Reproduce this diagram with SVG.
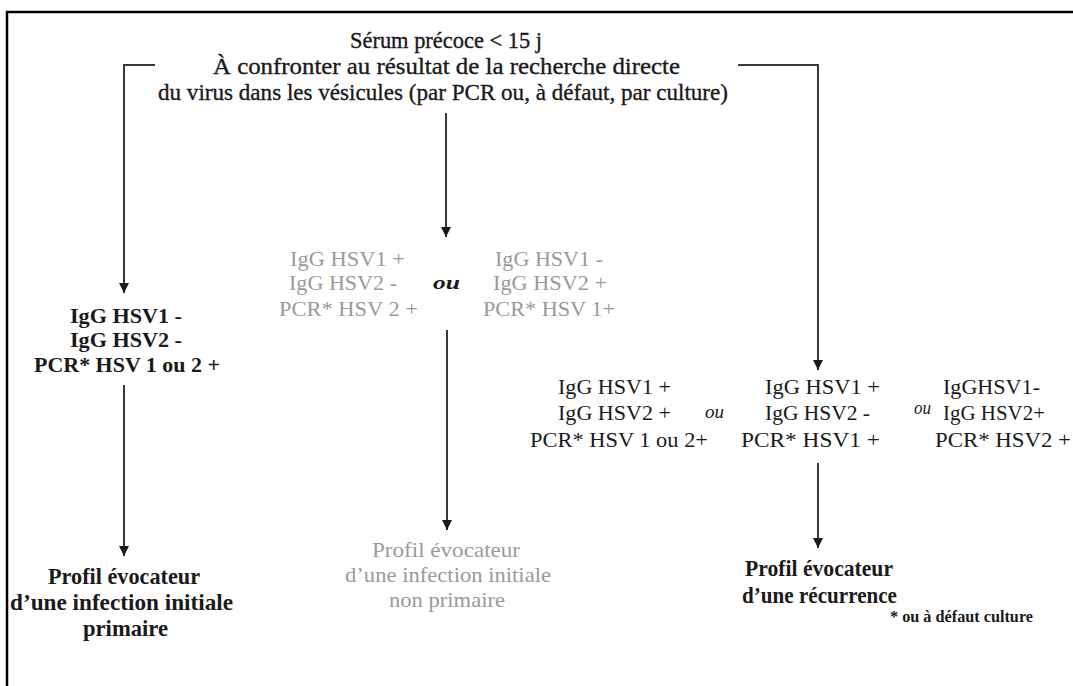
<svg xmlns="http://www.w3.org/2000/svg" width="1073" height="686" viewBox="0 0 1073 686">
<style>
text{font-family:"Liberation Serif","Times New Roman",serif;font-size:22px;fill:#1a1a1a}
.b{font-weight:bold}
.g{fill:#9a9a9a}
.ou{font-weight:bold;font-style:italic;font-size:19px}
.top{stroke:#1a1a1a;stroke-width:0.35;font-size:23.5px}
.pb{font-size:24px}
.ln{stroke:#3a3a3a;stroke-width:2;fill:none}
.fr{stroke:#000;stroke-width:2.5;fill:none}
</style>
<defs>
<marker id="ah" markerWidth="10" markerHeight="10" refX="10" refY="5" orient="auto" markerUnits="userSpaceOnUse" viewBox="0 0 10 10">
<path d="M0,0 L10,5 L0,10 Z" fill="#1a1a1a"/>
</marker>
</defs>
<rect width="1073" height="686" fill="#fff"/>
<path class="fr" d="M7,686 V12 H1073"/>
<g id="connectors">
<path class="ln" d="M155,65 H124 V293" marker-end="url(#ah)"/>
<path class="ln" d="M738,65 H818 V370" marker-end="url(#ah)"/>
<path class="ln" d="M446,113 V237" marker-end="url(#ah)"/>
<path class="ln" d="M124,385 V556" marker-end="url(#ah)"/>
<path class="ln" d="M447,330 V530" marker-end="url(#ah)"/>
<path class="ln" d="M818,463 V548" marker-end="url(#ah)"/>
</g>
<g id="serum">
<text class="top" x="350" y="48" textLength="192" lengthAdjust="spacingAndGlyphs">Sérum précoce &lt; 15 j</text>
<text class="top" x="213" y="74" textLength="467" lengthAdjust="spacingAndGlyphs">À confronter au résultat de la recherche directe</text>
<text class="top" x="158" y="100" textLength="570" lengthAdjust="spacingAndGlyphs">du virus dans les vésicules (par PCR ou, à défaut, par culture)</text>
</g>
<g id="primaire-criteres">
<text class="b" x="70" y="323" textLength="112" lengthAdjust="spacingAndGlyphs">IgG HSV1 -</text>
<text class="b" x="70" y="347" textLength="112" lengthAdjust="spacingAndGlyphs">IgG HSV2 -</text>
<text class="b" x="34" y="372" textLength="186" lengthAdjust="spacingAndGlyphs">PCR* HSV 1 ou 2 +</text>
</g>
<g id="non-primaire-criteres">
<text class="g" x="290" y="266" textLength="115" lengthAdjust="spacingAndGlyphs">IgG HSV1 +</text>
<text class="g" x="289" y="290" textLength="108" lengthAdjust="spacingAndGlyphs">IgG HSV2 -</text>
<text class="g" x="279" y="316" textLength="139" lengthAdjust="spacingAndGlyphs">PCR* HSV 2 +</text>
<text class="ou" x="433" y="289" textLength="27" lengthAdjust="spacingAndGlyphs">ou</text>
<text class="g" x="495" y="266" textLength="108" lengthAdjust="spacingAndGlyphs">IgG HSV1 -</text>
<text class="g" x="493" y="290" textLength="114" lengthAdjust="spacingAndGlyphs">IgG HSV2 +</text>
<text class="g" x="483" y="316" textLength="132" lengthAdjust="spacingAndGlyphs">PCR* HSV 1+</text>
</g>
<g id="recurrence-criteres">
<text x="558" y="394" textLength="113" lengthAdjust="spacingAndGlyphs">IgG HSV1 +</text>
<text x="558" y="420" textLength="113" lengthAdjust="spacingAndGlyphs">IgG HSV2 +</text>
<text x="530" y="447" textLength="178" lengthAdjust="spacingAndGlyphs">PCR* HSV 1 ou 2+</text>
<text class="ou" style="font-weight:normal" x="705" y="418" textLength="19" lengthAdjust="spacingAndGlyphs">ou</text>
<text x="765" y="394" textLength="115" lengthAdjust="spacingAndGlyphs">IgG HSV1 +</text>
<text x="765" y="420" textLength="105" lengthAdjust="spacingAndGlyphs">IgG HSV2 -</text>
<text x="741" y="447" textLength="139" lengthAdjust="spacingAndGlyphs">PCR* HSV1 +</text>
<text class="ou" style="font-weight:normal" x="914" y="414" textLength="17" lengthAdjust="spacingAndGlyphs">ou</text>
<text x="943" y="394" textLength="97" lengthAdjust="spacingAndGlyphs">IgGHSV1-</text>
<text x="943" y="420" textLength="102" lengthAdjust="spacingAndGlyphs">IgG HSV2+</text>
<text x="935" y="447" textLength="136" lengthAdjust="spacingAndGlyphs">PCR* HSV2 +</text>
</g>
<g id="profil-primaire">
<text class="b pb" x="48" y="584" textLength="152" lengthAdjust="spacingAndGlyphs">Profil évocateur</text>
<text class="b pb" x="10" y="610" textLength="223" lengthAdjust="spacingAndGlyphs">d’une infection initiale</text>
<text class="b pb" x="83" y="636" textLength="85" lengthAdjust="spacingAndGlyphs">primaire</text>
</g>
<g id="profil-non-primaire">
<text class="g" x="372" y="557" textLength="148" lengthAdjust="spacingAndGlyphs">Profil évocateur</text>
<text class="g" x="345" y="582" textLength="206" lengthAdjust="spacingAndGlyphs">d’une infection initiale</text>
<text class="g" x="389" y="607" textLength="116" lengthAdjust="spacingAndGlyphs">non primaire</text>
</g>
<g id="profil-recurrence">
<text class="b pb" x="745" y="576" textLength="148" lengthAdjust="spacingAndGlyphs">Profil évocateur</text>
<text class="b pb" x="742" y="603" textLength="155" lengthAdjust="spacingAndGlyphs">d’une récurrence</text>
</g>
<g id="footnote">
<text class="b" x="890" y="622" style="font-size:16px" textLength="143" lengthAdjust="spacingAndGlyphs">* ou à défaut culture</text>
</g>
</svg>
